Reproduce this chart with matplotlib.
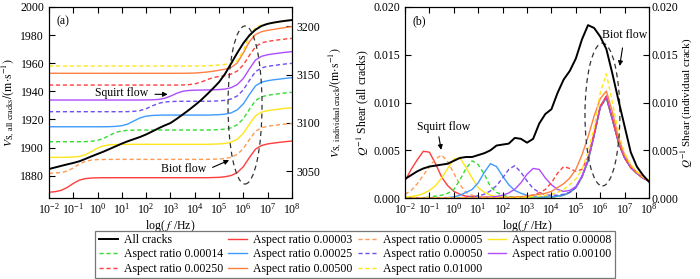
import numpy as np
import matplotlib
matplotlib.use('Agg')
import matplotlib.pyplot as plt
from matplotlib.patches import Ellipse
from matplotlib.ticker import NullLocator, FormatStrFormatter

plt.rcParams['font.family'] = ['Liberation Serif', 'DejaVu Serif']
plt.rcParams['mathtext.fontset'] = 'stix'
plt.rcParams['font.size'] = 8.5

# sample positions, log10(f/Hz), every quarter decade from 1e-2 to 1e8
log_f = np.linspace(-2, 8, 41)

aspect_ratios = ['0.00003', '0.00005', '0.00008', '0.00014', '0.00025',
                 '0.00050', '0.00100', '0.00250', '0.00500', '0.01000']
colors = ['#ff3b3b', '#ff9a52', '#ffe61a', '#33dd33', '#3d9bff',
          '#6f4ff0', '#b04cff', '#ff4040', '#ff8040', '#ffe61a']
styles = ['-', '--', '-', '--', '-', '--', '-', '--', '-', '--']

# (a) S-wave velocity, all cracks (left axis, m/s)
vs_all = [1884.7, 1885.8, 1886.9, 1888.0, 1889.0, 1890.2, 1891.9, 1893.7, 1895.4, 1897.1,
          1899.0, 1900.9, 1902.8, 1904.5, 1906.0, 1907.5, 1909.3, 1911.4, 1913.6, 1915.6,
          1917.4, 1920.3, 1923.4, 1926.6, 1930.0, 1933.6, 1937.7, 1942.0, 1946.5, 1952.5,
          1959.8, 1967.3, 1974.2, 1979.8, 1983.8, 1986.5, 1988.0, 1988.9, 1989.6, 1990.2,
          1990.7]

# (a) S-wave velocity, individual cracks (right axis, m/s)
vs_003 = ([3028.1, 3028.6, 3030.0, 3033.0, 3037.2, 3040.6, 3042.2, 3042.8, 3043.0]
          + [3043.1] * 18
          + [3043.3, 3043.5, 3044.1, 3045.4, 3048.4, 3054.5, 3064.0, 3072.7, 3076.5,
             3078.1, 3079.0, 3079.8, 3080.5, 3081.1])
vs_005 = ([3047.7, 3047.9, 3048.5, 3050.0, 3053.2, 3057.3, 3060.1, 3061.4, 3061.9, 3062.0]
          + [3062.1] * 17
          + [3062.3, 3062.5, 3063.0, 3064.3, 3067.3, 3073.3, 3082.6, 3091.2, 3094.9,
             3096.4, 3097.3, 3098.1, 3098.8, 3099.4])
vs_008 = ([3064.2, 3064.2, 3064.2, 3064.3, 3064.5, 3065.2, 3066.9, 3070.2, 3073.9, 3076.2,
           3077.2, 3077.5, 3077.6]
          + [3077.7] * 14
          + [3077.9, 3078.1, 3078.6, 3080.0, 3083.0, 3089.1, 3098.5, 3107.3, 3111.1,
             3112.6, 3113.5, 3114.3, 3115.0, 3115.6])
vs_014 = ([3080.4] * 6
          + [3080.5, 3080.9, 3081.8, 3083.9, 3087.1, 3090.1, 3091.6, 3092.2, 3092.4]
          + [3092.5] * 12
          + [3092.7, 3092.9, 3093.5, 3094.8, 3098.0, 3104.2, 3114.0, 3123.0, 3126.9,
             3128.5, 3129.4, 3130.2, 3131.0, 3131.6])
vs_025 = ([3095.9] * 10
          + [3096.0, 3096.3, 3097.0, 3098.8, 3102.0, 3105.1, 3106.9, 3107.6, 3107.9]
          + [3108.0] * 8
          + [3108.2, 3108.4, 3109.0, 3110.3, 3113.4, 3119.6, 3129.3, 3138.2, 3142.1,
             3143.6, 3144.6, 3145.3, 3146.1, 3146.7])
vs_050 = ([3111.5] * 13
          + [3111.6, 3111.9, 3112.7, 3114.6, 3117.5, 3120.1, 3121.5, 3122.0, 3122.2]
          + [3122.3] * 5
          + [3122.5, 3122.7, 3123.3, 3124.7, 3127.8, 3134.1, 3143.9, 3153.0, 3156.9,
             3158.5, 3159.4, 3160.2, 3161.0, 3161.6])
vs_100 = ([3123.6] * 16
          + [3123.7, 3123.8, 3124.2, 3125.3, 3127.6, 3130.5, 3132.6, 3133.5, 3133.8,
             3133.9, 3134.0]
          + [3134.2, 3134.4, 3135.0, 3136.4, 3139.6, 3145.9, 3155.8, 3165.0, 3168.9,
             3170.5, 3171.5, 3172.3, 3173.1, 3173.7])
vs_250 = ([3139.1] * 21
          + [3139.1, 3139.2, 3139.5, 3140.3, 3142.1, 3144.6, 3146.8, 3148.0, 3148.9,
             3150.5, 3153.6, 3159.9, 3169.8, 3178.8, 3182.8, 3184.3, 3185.3, 3186.1,
             3186.9, 3187.5])
vs_500 = ([3151.3] * 23
          + [3151.4, 3151.6, 3152.0, 3152.6, 3153.4, 3154.4, 3155.6, 3157.3, 3162.0,
             3172.5, 3184.0, 3191.4, 3194.4, 3195.8, 3196.8, 3197.8, 3198.8, 3199.6])
vs_1000 = ([3158.8] * 25
           + [3158.9, 3159.1, 3159.4, 3159.9, 3160.6, 3161.8, 3164.2, 3175.0, 3189.5,
              3198.4, 3201.3, 3202.6, 3203.6, 3204.6, 3205.6, 3206.5])

# (b) shear attenuation, all cracks (left axis)
q_all = [0.0020, 0.0024, 0.0028, 0.0031, 0.0033, 0.0034, 0.0035, 0.0036, 0.0039, 0.0042,
         0.0043, 0.0043, 0.0045, 0.0047, 0.0050, 0.0055, 0.0056, 0.0057, 0.0063, 0.0062,
         0.0058, 0.0062, 0.0078, 0.0088, 0.0093, 0.0110, 0.0124, 0.0133, 0.0146, 0.0166,
         0.0181, 0.0178, 0.0169, 0.0156, 0.0130, 0.0102, 0.0075, 0.0048, 0.0033, 0.0024,
         0.0017]

# (b) shear attenuation, individual cracks (right axis)
biot_tail = [0.0039, 0.0066, 0.0095, 0.0105, 0.0082, 0.0058, 0.0042, 0.0032, 0.0026,
             0.0021, 0.0018]
q_003 = [0.0018, 0.0030, 0.0040, 0.0049, 0.0048, 0.0036, 0.0022, 0.0013, 0.0007, 0.0004,
         0.0002, 0.00015, 0.0001, 0.0001, 0.00008, 0.00006, 0.00005, 0.00005, 0.00004, 0.00004,
         0.00004, 0.00005, 0.00006, 0.00008, 0.0001, 0.0002, 0.0003, 0.0006, 0.0011, 0.0022,
         0.0039, 0.0066, 0.0096, 0.0107, 0.0083, 0.0058, 0.0042, 0.0032, 0.0026, 0.0021,
         0.0018]
q_005 = [0.0004, 0.0008, 0.0015, 0.0024, 0.0033, 0.0041, 0.0045, 0.0038, 0.0026, 0.0014,
         0.0006, 0.0003, 0.00015, 0.0001, 0.00008, 0.00006, 0.00005, 0.00005, 0.00005, 0.00005,
         0.00005, 0.00006, 0.00007, 0.00009, 0.0001, 0.0002, 0.0003, 0.0006, 0.0011, 0.0022,
         0.0039, 0.0066, 0.0095, 0.0105, 0.0082, 0.0058, 0.0042, 0.0032, 0.0026, 0.0021,
         0.0018]
q_008 = [0.0001, 0.00016, 0.00027, 0.00047, 0.0008, 0.0013, 0.0021, 0.0031, 0.0041, 0.0042,
         0.0032, 0.0021, 0.0011, 0.0006, 0.0003, 0.00015, 0.0001, 0.00008, 0.00006, 0.00005,
         0.00005, 0.00005, 0.00006, 0.00008, 0.0001, 0.0002, 0.0003, 0.0006, 0.0011, 0.0022,
         0.0039, 0.0066, 0.0095, 0.0105, 0.0082, 0.0058, 0.0042, 0.0032, 0.0026, 0.0021,
         0.0018]
q_014 = [0.00001, 0.00002, 0.00003, 0.00005, 0.0001, 0.0002, 0.0003, 0.0005, 0.0009, 0.0019,
         0.0031, 0.0039, 0.0035, 0.0025, 0.0012, 0.0006, 0.0003, 0.00015, 0.0001, 0.00007,
         0.00006, 0.00006, 0.00007, 0.00008, 0.0001, 0.0002, 0.0003, 0.0006, 0.0011, 0.0022,
         0.0039, 0.0066, 0.0095, 0.0105, 0.0082, 0.0058, 0.0042, 0.0032, 0.0026, 0.0021,
         0.0018]
q_025 = [0.00001, 0.00001, 0.00001, 0.00001, 0.00001, 0.00001, 0.00003, 0.00006, 0.00012, 0.0003,
         0.0006, 0.0009, 0.0016, 0.0027, 0.0036, 0.0033, 0.0023, 0.0014, 0.0008, 0.0005,
         0.0003, 0.00015, 0.0001, 0.0001, 0.00013, 0.0002, 0.0003, 0.0006, 0.0011, 0.0022,
         0.0039, 0.0066, 0.0095, 0.0105, 0.0082, 0.0058, 0.0042, 0.0032, 0.0026, 0.0021,
         0.0018]
q_050 = ([0.00001] * 8 + [0.00002, 0.00004,
         0.00008, 0.00013, 0.00024, 0.0004, 0.00075, 0.0013, 0.0021, 0.0030, 0.0034, 0.0027,
         0.0018, 0.0010, 0.0006, 0.00035, 0.0003, 0.0003, 0.0004, 0.0006, 0.0011, 0.0022]
         + biot_tail)
q_100 = ([0.00001] * 12 + [0.00003, 0.00006, 0.0001, 0.00017, 0.0003, 0.00053, 0.00093, 0.0016,
         0.0025, 0.0031, 0.0030, 0.0021, 0.0014, 0.0009, 0.0007, 0.0008, 0.0012, 0.0023,
         0.0040, 0.0066, 0.0095, 0.0106, 0.0083, 0.0058, 0.0042, 0.0032, 0.0026, 0.0021,
         0.0018])
q_250 = ([0.00001] * 13 + [0.00002, 0.00003, 0.00004, 0.00005, 0.00006, 0.00007, 0.0001,
         0.0002, 0.00033, 0.00056, 0.0009, 0.0016, 0.0026, 0.0033, 0.0031, 0.0028, 0.0030,
         0.0043, 0.0068, 0.0096, 0.0106, 0.0083, 0.0058, 0.0042, 0.0032, 0.0026, 0.0021,
         0.0018])
q_500 = ([0.00001] * 16 + [0.00005, 0.00007, 0.0001, 0.00015,
         0.0002, 0.0003, 0.0004, 0.0005, 0.0007, 0.0011, 0.0015, 0.0021, 0.0030, 0.0045,
         0.0064, 0.0086, 0.0104, 0.0112, 0.0090, 0.0063, 0.0045, 0.0034, 0.0027, 0.0022,
         0.0018])
q_1000 = ([0.00001] * 18 + [0.00005, 0.00007,
          0.0001, 0.00015, 0.0002, 0.0003, 0.0004, 0.0006, 0.0009, 0.0014, 0.0020, 0.0030,
          0.0048, 0.0074, 0.0110, 0.0130, 0.0100, 0.0068, 0.0047, 0.0035, 0.0028, 0.0022,
          0.0019])

vs_cracks = [vs_003, vs_005, vs_008, vs_014, vs_025, vs_050, vs_100, vs_250, vs_500, vs_1000]
q_cracks = [q_003, q_005, q_008, q_014, q_025, q_050, q_100, q_250, q_500, q_1000]


def ls(style):
    return '-' if style == '-' else (0, (3, 2))


def setup_x(ax):
    ax.set_xscale('log')
    ax.set_xlim(1e-2, 1e8)
    ax.set_xticks([10.0 ** k for k in range(-2, 9)])
    ax.xaxis.set_minor_locator(NullLocator())
    ax.set_xlabel(r'log( $f$ /Hz)', labelpad=1)
    ax.tick_params(axis='x', which='both', direction='in', top=True, length=4, pad=3)
    ax.tick_params(axis='y', direction='in', length=4)


def main():
    freq = 10.0 ** log_f
    fig = plt.figure(figsize=(7, 2.79), dpi=100)
    ax_a = fig.add_axes([0.070, 0.290, 0.347, 0.685])
    ax_b = fig.add_axes([0.5786, 0.290, 0.3486, 0.685])

    # ---- (a) velocity ----
    ax_a2 = ax_a.twinx()
    handles = []
    h_all, = ax_a.plot(freq, vs_all, color='k', lw=1.4, label='All cracks')
    for v, c, s, ar in zip(vs_cracks, colors, styles, aspect_ratios):
        h, = ax_a2.plot(freq, v, color=c, ls=ls(s), lw=1.0, label='Aspect ratio ' + ar)
        handles.append(h)
    ax_a.set_zorder(ax_a2.get_zorder() + 1)
    ax_a.patch.set_visible(False)
    setup_x(ax_a)
    ax_a.set_ylim(1864, 2000)
    ax_a.set_yticks([1880, 1900, 1920, 1940, 1960, 1980, 2000])
    ax_a2.set_ylim(3022, 3220)
    ax_a2.set_yticks([3050, 3100, 3150, 3200])
    ax_a2.tick_params(axis='y', direction='in', length=4)
    ax_a.set_ylabel(r'$V_{\mathrm{S,\ all\ cracks}}/(\mathrm{m{\cdot}s^{-1}})$', labelpad=2)
    ax_a2.set_ylabel(r'$V_{\mathrm{S,\ individual\ crack}}/(\mathrm{m{\cdot}s^{-1}})$', labelpad=4)

    ax_a.text(0.058, 0.927, '(a)', transform=ax_a.transAxes, ha='center', va='center')
    ax_a.text(0.30, 0.548, 'Squirt flow', transform=ax_a.transAxes, ha='center', va='center')
    ax_a.annotate('', xy=(0.50, 0.543), xytext=(0.425, 0.543), xycoords='axes fraction',
                  arrowprops=dict(arrowstyle='-|>', color='k', lw=0.8, mutation_scale=7))
    ax_a.text(0.556, 0.150, 'Biot flow', transform=ax_a.transAxes, ha='center', va='center')
    ax_a.annotate('', xy=(0.752, 0.204), xytext=(0.663, 0.155), xycoords='axes fraction',
                  arrowprops=dict(arrowstyle='-|>', color='k', lw=0.8, mutation_scale=7))
    ax_a.add_patch(Ellipse((0.807, 0.487), 0.14, 0.827, transform=ax_a.transAxes,
                           fill=False, ec='#333333', lw=0.9, ls=(0, (4, 3))))

    # ---- (b) attenuation ----
    ax_b2 = ax_b.twinx()
    ax_b.plot(freq, q_all, color='k', lw=1.4)
    for q, c, s in zip(q_cracks, colors, styles):
        ax_b2.plot(freq, q, color=c, ls=ls(s), lw=1.0)
    ax_b.set_zorder(ax_b2.get_zorder() + 1)
    ax_b.patch.set_visible(False)
    setup_x(ax_b)
    for a in (ax_b, ax_b2):
        a.set_ylim(0, 0.020)
        a.set_yticks([0.0, 0.005, 0.010, 0.015, 0.020])
        a.yaxis.set_major_formatter(FormatStrFormatter('%.3f'))
    ax_b2.tick_params(axis='y', direction='in', length=4, pad=2)
    ax_b.set_ylabel(r'$Q^{-1}$ Shear (all cracks)', labelpad=2)
    ax_b2.set_ylabel(r'$Q^{-1}$ Shear (individual crack)', labelpad=1, fontsize=8)

    ax_b.text(0.057, 0.926, '(b)', transform=ax_b.transAxes, ha='center', va='center')
    ax_b.text(0.158, 0.37, 'Squirt flow', transform=ax_b.transAxes, ha='center', va='center')
    ax_b.annotate('', xy=(0.150, 0.238), xytext=(0.137, 0.335), xycoords='axes fraction',
                  arrowprops=dict(arrowstyle='-|>', color='k', lw=0.8, mutation_scale=7))
    ax_b.text(0.90, 0.853, 'Biot flow', transform=ax_b.transAxes, ha='center', va='center')
    ax_b.annotate('', xy=(0.878, 0.677), xytext=(0.893, 0.80), xycoords='axes fraction',
                  arrowprops=dict(arrowstyle='-|>', color='k', lw=0.8, mutation_scale=7))
    ax_b.add_patch(Ellipse((0.809, 0.437), 0.143, 0.747, transform=ax_b.transAxes,
                           fill=False, ec='#333333', lw=0.9, ls=(0, (4, 3))))

    # legend: row-major in the picture, matplotlib fills columns first
    all_h = [h_all] + handles
    order = [0, 4, 8, 1, 5, 9, 2, 6, 10, 3, 7]
    leg = fig.legend([all_h[i] for i in order], [all_h[i].get_label() for i in order],
                     ncol=4, loc='center', bbox_to_anchor=(0.136, 0.004, 0.743, 0.168),
                     mode='expand', fancybox=False, edgecolor='#555555',
                     handlelength=1.6, handletextpad=0.5, labelspacing=0.2,
                     borderaxespad=0, borderpad=0.3)
    leg.get_frame().set_linewidth(0.9)

    fig.savefig('out.png', dpi=100)


if __name__ == '__main__':
    main()
